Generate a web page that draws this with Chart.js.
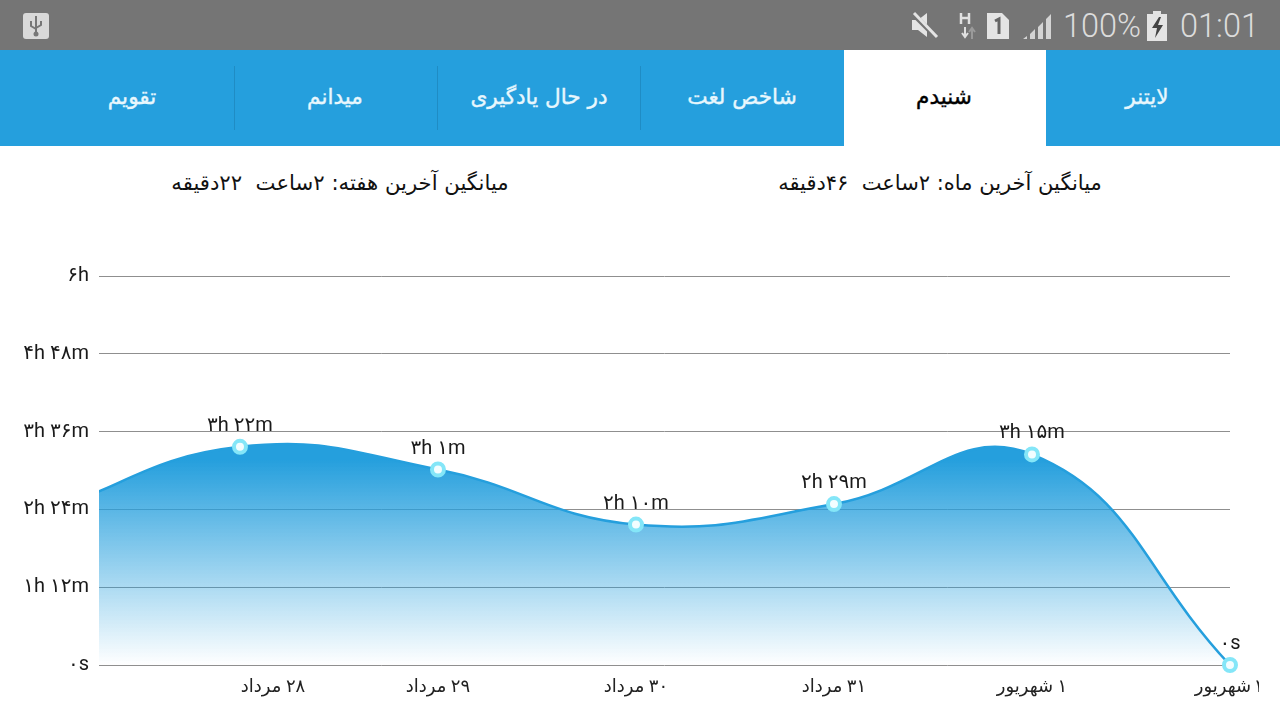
<!DOCTYPE html>
<html lang="fa"><head><meta charset="utf-8">
<style>
html,body{margin:0;padding:0;width:1280px;height:720px;overflow:hidden;background:#fff;font-family:"DejaVu Sans",sans-serif}
#status{position:absolute;left:0;top:0;width:1280px;height:50px;background:#757575}
#tabs{position:absolute;left:0;top:50px;width:1280px;height:96px;background:#259fdd}
#active{position:absolute;left:844px;top:0;width:202px;height:96px;background:#fff}
.div{position:absolute;top:16px;width:1px;height:64px;background:#1f8cc4}
.tab{position:absolute;top:30px;width:200px;text-align:center;direction:rtl;font-size:21.6px;line-height:34px;color:#e8f7fd;-webkit-text-stroke:.4px currentColor}
.avg{position:absolute;top:168px;direction:rtl;white-space:pre;text-align:center;font-size:21.2px;line-height:30px;color:#111}
.st{position:absolute;top:7px;font-family:Roboto,sans-serif;font-weight:300;font-size:32.5px;line-height:38px;color:#dcdcdc}
#wrap{position:absolute;left:0;top:146px;width:1259px;height:574px}
svg{position:absolute}
</style></head><body>
<div id="status">
<svg style="left:22px;top:12px" width="28" height="28" viewBox="0 0 28 28"><rect x="1" y="1" width="26" height="26" rx="3" fill="#d9d9d9"/><path d="M14 4v19M9 9v5l5 3M19 9v4l-5 3" fill="none" stroke="#777" stroke-width="2"/><circle cx="14" cy="22" r="2.5" fill="#777"/></svg>
<svg style="left:908px;top:10px" width="32" height="30" viewBox="0 0 32 30"><path d="M4 10h6l9-7v24l-9-7H4z" fill="#e4e4e4"/><path d="M4 3l24 24" stroke="#757575" stroke-width="5"/><path d="M6 3l23 24" stroke="#e4e4e4" stroke-width="3"/></svg>
<svg style="left:958px;top:12px" width="20" height="28" viewBox="0 0 20 28"><path d="M3 1v11M11 1v11M3 6h8" stroke="#e0e0e0" stroke-width="2.5" fill="none"/><path d="M7 15v10M4 21l3 4 3-4" stroke="#e0e0e0" stroke-width="2" fill="none"/><path d="M14 27V17M11 20l3-4 3 4" stroke="#9a9a9a" stroke-width="2" fill="none"/></svg>
<svg style="left:986px;top:12px" width="24" height="28" viewBox="0 0 24 28"><path d="M1 1h15l7 7v19H1z" fill="#e4e4e4"/><path d="M9 9l4-2v15" stroke="#666" stroke-width="3" fill="none"/></svg>
<svg style="left:1022px;top:12px" width="30" height="28" viewBox="0 0 30 28"><path d="M1 27h4v-3zM8 27h5V17l-5 5zM16 27h5V10l-5 5zM24 27h5V2l-5 5z" fill="#d4d4d4"/></svg>
<div class="st" style="left:1063px">100%</div>
<svg style="left:1146px;top:10px" width="22" height="32" viewBox="0 0 22 32"><path d="M7 1h8v3h6v27H1V4h6z" fill="#e4e4e4"/><path d="M13 7l-7 11h5l-2 10 8-13h-5l3-8z" fill="#444"/></svg>
<div class="st" style="left:1180px">01:01</div>
</div>
<div id="tabs">
<div id="active"></div>
<div class="div" style="left:640px"></div><div class="div" style="left:437px"></div><div class="div" style="left:234px"></div>
<div class="tab" style="left:1047px">لایتنر</div>
<div class="tab" style="left:844px;color:#000">شنیدم</div>
<div class="tab" style="left:642px">شاخص لغت</div>
<div class="tab" style="left:439px">در حال یادگیری</div>
<div class="tab" style="left:235px">میدانم</div>
<div class="tab" style="left:32px">تقویم</div>
</div>
<div class="avg" style="left:740px;width:400px;font-size:21px">میانگین آخرین ماه: ۲ساعت  ۴۶دقیقه</div>
<div class="avg" style="left:140px;width:400px">میانگین آخرین هفته: ۲ساعت  ۲۲دقیقه</div>
<div id="wrap"><canvas id="c" width="1259" height="574"></canvas></div>
<script src="https://cdn.jsdelivr.net/npm/chart.js@4"></script>
<script>
const categories = ["\u200F۲۸ مرداد","\u200F۲۹ مرداد","\u200F۳۰ مرداد","\u200F۳۱ مرداد","\u200F۱ شهریور","\u200F۲ شهریور"];
const minutes = [202,181,130,149,195,0];
const valueLabels = ["۳h ۲۲m","۳h ۱m","۲h ۱۰m","۲h ۲۹m","۳h ۱۵m","۰s"];
const previousDayMinutes = 140;
const yTickValues = [0,72,144,216,288,360];
const yTickLabels = ["۰s","۱h ۱۲m","۲h ۲۴m","۳h ۳۶m","۴h ۴۸m","۶h"];
const FONT = 'Roboto, "DejaVu Sans", sans-serif';
const points = [{x:-1,y:previousDayMinutes}].concat(minutes.map((y,i)=>({x:i,y})));
const labelPlugin = {id:'valueLabels',afterDatasetsDraw(chart){
  const c=chart.ctx, xs=chart.scales.x, ys=chart.scales.y;
  c.save();c.font='20px '+FONT;c.fillStyle='#1a1a1a';c.textAlign='center';c.textBaseline='middle';
  minutes.forEach((v,i)=>c.fillText(valueLabels[i],xs.getPixelForValue(i),ys.getPixelForValue(v)-21));
  c.restore();
}};
new Chart(document.getElementById('c'),{
  type:'line',
  plugins:[labelPlugin],
  data:{datasets:[{
    data:points,
    borderColor:'#259fdd',borderWidth:2.5,
    tension:0.44,capBezierPoints:false,
    clip:{left:0,top:false,right:false,bottom:false},
    fill:'origin',
    backgroundColor(ctx){
      const s=ctx.chart.scales.y;
      const top=s?s.getPixelForValue(190):NaN, bot=s?s.getPixelForValue(0):NaN;
      if(!isFinite(top)||!isFinite(bot)) return '#259fdd';
      const g=ctx.chart.ctx.createLinearGradient(0,top,0,bot);
      g.addColorStop(0,'rgba(37,159,221,1)');g.addColorStop(1,'rgba(37,159,221,0)');return g;
    },
    pointRadius:ctx=>ctx.dataIndex===0?0:6,
    pointBorderWidth:4,pointBorderColor:'#84e6f8',pointBackgroundColor:'#f2fdff'
  }]},
  options:{
    responsive:false,animation:false,devicePixelRatio:1,
    layout:{padding:{top:130.2,right:29,left:0,bottom:0}},
    plugins:{legend:{display:false},tooltip:{enabled:false}},
    scales:{
      x:{type:'linear',min:-0.712,max:5,
        // the first date label sits a little to the right of its point in the reference
        afterBuildTicks(a){a.ticks=categories.map((_,i)=>({value:i===0?0.167:i}));},
        afterFit(a){a.paddingLeft=0;a.paddingRight=0;a.height=55;},
        grid:{display:false},border:{display:false},
        ticks:{autoSkip:false,maxRotation:0,padding:4,color:'#222',font:{family:FONT,size:18},callback:(v,i)=>categories[i]}
      },
      y:{min:0,max:360,
        afterBuildTicks(a){a.ticks=yTickValues.map(value=>({value}));},
        afterFit(a){a.width=99;a.paddingTop=0;a.paddingBottom=0;},
        grid:{color:'#8f8f8f',lineWidth:1,drawTicks:false},border:{display:false},
        ticks:{padding:10,color:'#1a1a1a',font:{family:FONT,size:20},callback:v=>yTickLabels[yTickValues.indexOf(v)]}
      }
    }
  }
});
</script></body></html>
